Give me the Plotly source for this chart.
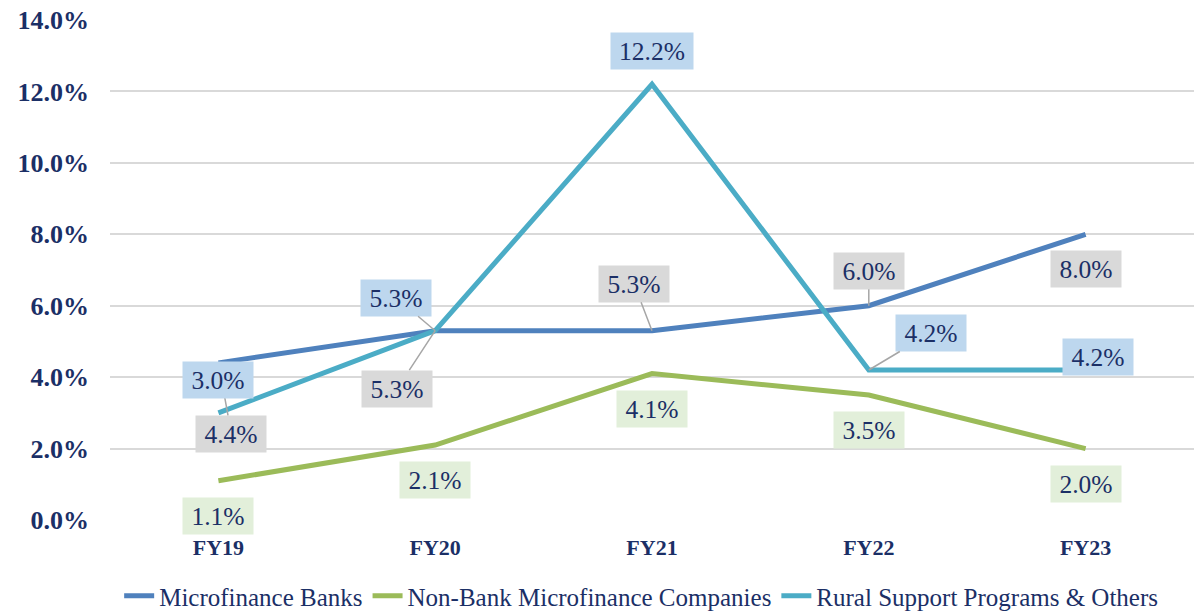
"""Microfinance growth by segment, FY19-FY23 (line chart with boxed labels)."""

import plotly.graph_objects as go

_NAVY = "#1b2f66"
_GRID = "#d9d9d9"
_LEADER = "#a6a6a6"
_FONT = "Liberation Serif, Times New Roman, serif"

years = ["FY19", "FY20", "FY21", "FY22", "FY23"]

# name, colour, label box colour, values, label offsets (dx, dy px, leader?)
series = [
    ("Microfinance Banks", "#4f81bd", "#d9d9d9",
     [4.4, 5.3, 5.3, 6.0, 8.0],
     [(13, 71, True), (-38, 58, True), (-18, -47, True), (0, -35, True), (0, 35, False)]),
    ("Non-Bank Microfinance Companies", "#9bbb59", "#e2efda",
     [1.1, 2.1, 4.1, 3.5, 2.0],
     [(0, 35, False), (0, 35, False), (0, 35, False), (0, 35, False), (0, 35, False)]),
    ("Rural Support Programs & Others", "#4bacc6", "#bdd7ee",
     [3.0, 5.3, 12.2, 4.2, 4.2],
     [(0, -33, False), (-39, -33, True), (0, -33, False), (62, -37, True), (12, -13, False)]),
]

fig = go.Figure()
for name, color, box, vals, offs in series:
    fig.add_trace(go.Scatter(x=years, y=vals, name=name, mode="lines",
        line=dict(color=color, width=5),
        hovertemplate=f"<b>{name}</b><br>%{{x}}: %{{y:.1f}}%<extra></extra>"))

for name, color, box, vals, offs in series:
    for yr, v, (dx, dy, leader) in zip(years, vals, offs):
        txt = f"{v:.1f}%"
        common = dict(x=yr, y=v, text=txt, bgcolor=box, height=36,
                      width=70 if len(txt) == 4 else 82, borderpad=0,
                      font=dict(family=_FONT, size=25.5, color=_NAVY))
        if leader:
            fig.add_annotation(**common, showarrow=True, ax=dx, ay=dy, arrowhead=0,
                               arrowwidth=1.5, arrowcolor=_LEADER, standoff=0)
        else:
            fig.add_annotation(**common, showarrow=False, xshift=dx, yshift=-dy)

fig.update_layout(
    width=1194, height=614,
    paper_bgcolor="white", plot_bgcolor="white",
    margin=dict(l=110, r=0, t=20, b=94, autoexpand=False),
    font=dict(family=_FONT, color=_NAVY),
    showlegend=True,
    legend=dict(orientation="h", x=0.49, xanchor="center", y=-0.152, yanchor="middle",
                font=dict(family=_FONT, size=25, color=_NAVY), bgcolor="rgba(0,0,0,0)",
                itemwidth=30, tracegroupgap=0),
    xaxis=dict(range=[-0.5, 4.5], showgrid=False, zeroline=False, showline=False,
               automargin=False,
               tickfont=dict(family=_FONT, size=22, color=_NAVY, weight="bold"),
               ticklabelstandoff=12),
    yaxis=dict(range=[0, 14], dtick=2, tickformat=".1f", ticksuffix="%",
               showgrid=True, gridcolor=_GRID, gridwidth=2, zeroline=False,
               automargin=False,
               tickfont=dict(family=_FONT, size=26, color=_NAVY, weight="bold"),
               ticklabelstandoff=20),
)

# drop the browser's default 8px body margin so the chart fills the window
fig.write_html("out.html", config=dict(displayModeBar=False),
               post_script="document.body.style.margin='0';")
